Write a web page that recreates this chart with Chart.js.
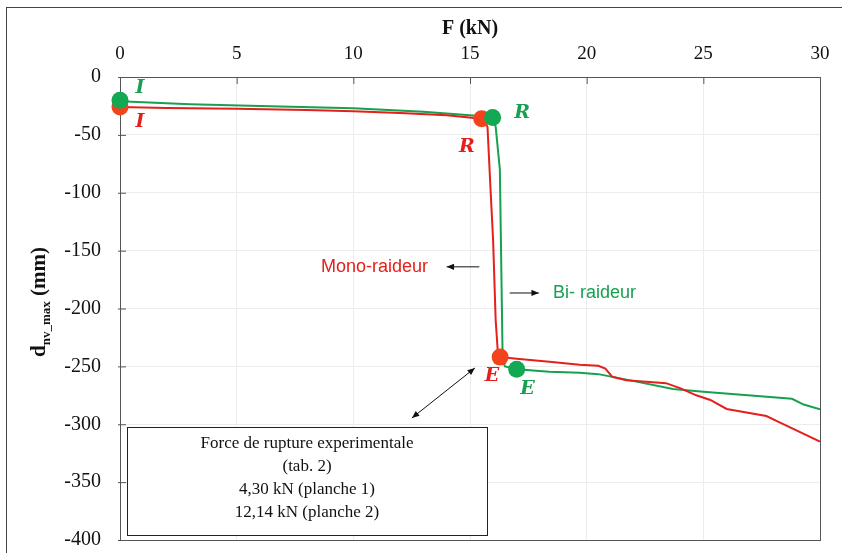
<!DOCTYPE html>
<html>
<head>
<meta charset="utf-8">
<script src="https://cdn.jsdelivr.net/npm/chart.js@4"></script>
<style>
  html, body { margin: 0; padding: 0; background: #fff; }
  #wrap { width: 842px; height: 553px; }
</style>
</head>
<body>
<div id="wrap"><canvas id="myChart" width="842" height="553"></canvas></div>
<script>
// Mono-raideur (rouge)
const redF = [0, 2, 5, 8, 10, 12, 14, 15.5, 15.75, 15.86, 15.99, 16.1, 16.2, 16.29, 17, 18.4, 19.7, 20.5, 20.8, 21.1, 21.7, 23.4, 24.0, 24.7, 25.3, 26.0, 27.7, 28.2, 30];
const redD = [-26, -26.8, -27.5, -28.5, -29.5, -31, -33, -36, -43, -89, -141, -210, -240, -242, -243.5, -246, -248.5, -249.5, -252, -259, -262, -264.5, -268.8, -275, -279, -286.8, -292.9, -297.8, -315];

// Bi-raideur (vert)
const greenF = [0, 3, 6, 10, 13, 15.97, 16.1, 16.28, 16.4, 16.5, 17.0, 18.4, 19.7, 20.5, 21.6, 23.7, 25.0, 28.8, 29.3, 30];
const greenD = [-21, -23.5, -25, -27, -30, -34.5, -43, -80, -245, -250, -252.5, -254.6, -255.5, -256.7, -261, -269.6, -272, -278, -283, -287];

// points I, R, E
const pointNames = ['I', 'R', 'E'];
const redPtF = [0, 15.5, 16.29];
const redPtD = [-26, -36, -242];
const greenPtF = [0, 15.97, 17.0];
const greenPtD = [-20, -35, -252.5];

const xTicks = [0, 5, 10, 15, 20, 25, 30];
const yTicks = [0, -50, -100, -150, -200, -250, -300, -350, -400];

const boxLines = ['Force de rupture experimentale', '(tab. 2)', '4,30 kN (planche 1)', '12,14 kN (planche 2)'];

const RED = '#e3201b';
const GREEN = '#17a050';
const RED_DOT = '#f2431c';
const GREEN_DOT = '#13a853';

const pts = (xs, ys) => xs.map((x, i) => ({ x: x, y: ys[i] }));

function arrow(ctx, x1, y1, x2, y2, both) {
    const head = (ax, ay, bx, by) => {
        const a = Math.atan2(by - ay, bx - ax);
        ctx.beginPath();
        ctx.moveTo(bx, by);
        ctx.lineTo(bx - 8 * Math.cos(a - 0.4), by - 8 * Math.sin(a - 0.4));
        ctx.lineTo(bx - 8 * Math.cos(a + 0.4), by - 8 * Math.sin(a + 0.4));
        ctx.closePath();
        ctx.fill();
    };
    ctx.beginPath();
    ctx.moveTo(x1, y1);
    ctx.lineTo(x2, y2);
    ctx.stroke();
    head(x1, y1, x2, y2);
    if (both) head(x2, y2, x1, y1);
}

const extras = {
    id: 'extras',
    beforeDraw(chart) {
        const ctx = chart.ctx;
        ctx.save();
        ctx.fillStyle = '#fff';
        ctx.fillRect(0, 0, chart.width, chart.height);
        ctx.restore();
    },
    beforeDatasetsDraw(chart) {
        // plot frame + inward ticks, under the markers
        const ctx = chart.ctx;
        const xs = chart.scales.x, ys = chart.scales.y;
        const a = chart.chartArea;
        ctx.save();
        ctx.strokeStyle = '#555';
        ctx.lineWidth = 1;
        ctx.strokeRect(a.left + 0.5, a.top + 0.5, a.right - a.left, a.bottom - a.top);
        ctx.beginPath();
        xTicks.forEach(t => { const x = xs.getPixelForValue(t) + 0.5; ctx.moveTo(x, a.top); ctx.lineTo(x, a.top + 7); });
        yTicks.forEach(t => { const y = ys.getPixelForValue(t) + 0.5; ctx.moveTo(a.left - 2, y); ctx.lineTo(a.left + 6, y); });
        ctx.stroke();
        ctx.restore();
    },
    afterDatasetsDraw(chart) {
        const ctx = chart.ctx;
        const xs = chart.scales.x, ys = chart.scales.y;
        const X = v => xs.getPixelForValue(v), Y = v => ys.getPixelForValue(v);
        ctx.save();

        // outer frame
        ctx.strokeStyle = '#444';
        ctx.lineWidth = 1;
        ctx.strokeRect(6.5, 7.5, chart.width + 10, chart.height + 10);

        // point letters
        ctx.font = 'italic bold 19px "DejaVu Serif", serif';
        ctx.textAlign = 'center';
        ctx.textBaseline = 'middle';
        const redLab = [[0.86, -38.9], [14.87, -60.5], [15.94, -258.3]];
        const greenLab = [[0.86, -9.5], [17.23, -31], [17.46, -270]];
        pointNames.forEach((n, i) => {
            ctx.fillStyle = RED;
            ctx.fillText(n, X(redLab[i][0]), Y(redLab[i][1]));
            ctx.fillStyle = GREEN;
            ctx.fillText(n, X(greenLab[i][0]), Y(greenLab[i][1]));
        });

        // Mono / Bi labels
        ctx.font = '18px "Liberation Sans", Arial, sans-serif';
        ctx.fillStyle = RED;
        ctx.textAlign = 'right';
        ctx.fillText('Mono-raideur', X(13.2), Y(-164));
        ctx.fillStyle = GREEN;
        ctx.textAlign = 'left';
        ctx.fillText('Bi- raideur', X(18.56), Y(-186.6));

        ctx.strokeStyle = '#111';
        ctx.fillStyle = '#111';
        arrow(ctx, X(15.4), Y(-164), X(14.0), Y(-164), false);
        arrow(ctx, X(16.7), Y(-186.6), X(17.95), Y(-186.6), false);
        arrow(ctx, X(12.51), Y(-294.6), X(15.21), Y(-251.4), true);

        // text box
        const bx1 = X(0.3), bx2 = X(15.73), by1 = Y(-302.4), by2 = Y(-395.7);
        ctx.fillStyle = '#fff';
        ctx.fillRect(bx1, by1, bx2 - bx1, by2 - by1);
        ctx.strokeStyle = '#222';
        ctx.strokeRect(Math.round(bx1) + 0.5, Math.round(by1) + 0.5, Math.round(bx2 - bx1), Math.round(by2 - by1));
        ctx.fillStyle = '#111';
        ctx.textAlign = 'center';
        ctx.font = '17px "Liberation Serif", "Times New Roman", serif';
        boxLines.forEach((t, i) => ctx.fillText(t, (bx1 + bx2) / 2, by1 + 17 + i * 23));

        // y axis title with subscript
        ctx.translate(38, 302);
        ctx.rotate(-Math.PI / 2);
        ctx.fillStyle = '#111';
        ctx.textAlign = 'left';
        ctx.textBaseline = 'alphabetic';
        const big = 'bold 21px "Liberation Serif", serif';
        const small = 'bold 13px "Liberation Serif", serif';
        ctx.font = big; const w1 = ctx.measureText('d').width;
        ctx.font = small; const w2 = ctx.measureText('nv_max').width;
        ctx.font = big; const w3 = ctx.measureText(' (mm)').width;
        let x0 = -(w1 + w2 + w3) / 2;
        ctx.font = big; ctx.fillText('d', x0, 7);
        ctx.font = small; ctx.fillText('nv_max', x0 + w1, 12);
        ctx.font = big; ctx.fillText(' (mm)', x0 + w1 + w2, 7);

        ctx.restore();
    }
};

const data = {
    datasets: [{
        label: 'Mono-raideur',
        data: pts(redF, redD),
        borderColor: RED,
        borderWidth: 2,
        pointRadius: 0,
        showLine: true,
        order: 3
    }, {
        label: 'Bi- raideur',
        data: pts(greenF, greenD),
        borderColor: GREEN,
        borderWidth: 2,
        pointRadius: 0,
        showLine: true,
        order: 4
    }, {
        label: 'points mono',
        data: pts(redPtF, redPtD),
        backgroundColor: RED_DOT,
        borderWidth: 0,
        pointRadius: 8.5,
        showLine: false,
        clip: false,
        order: 2
    }, {
        label: 'points bi',
        data: pts(greenPtF, greenPtD),
        backgroundColor: GREEN_DOT,
        borderWidth: 0,
        pointRadius: 8.5,
        showLine: false,
        clip: false,
        order: 1
    }]
};

const config = {
    type: 'scatter',
    data: data,
    options: {
        responsive: false,
        animation: false,
        layout: { padding: { left: 0, right: 22, top: 0, bottom: 13 } },
        plugins: { legend: { display: false }, tooltip: { enabled: false } },
        scales: {
            x: {
                type: 'linear',
                position: 'top',
                min: 0, max: 30,
                afterBuildTicks: s => { s.ticks = xTicks.map(v => ({ value: v })); },
                afterFit: s => { s.height = 77; s.paddingLeft = 0; s.paddingRight = 0; },
                grid: { color: '#ececec', tickLength: 0 },
                border: { color: '#555' },
                ticks: {
                    padding: 12,
                    color: '#111',
                    font: { family: '"Liberation Serif", serif', size: 19 }
                },
                title: {
                    display: true,
                    text: 'F (kN)',
                    color: '#111',
                    padding: { top: 17, bottom: 0 },
                    font: { family: '"Liberation Serif", serif', size: 20, weight: 'bold' }
                }
            },
            y: {
                type: 'linear',
                min: -400, max: 0,
                afterBuildTicks: s => { s.ticks = yTicks.map(v => ({ value: v })); },
                afterFit: s => { s.width = 120; s.paddingTop = 0; s.paddingBottom = 0; },
                grid: { color: '#ececec', tickLength: 0 },
                border: { color: '#555' },
                ticks: {
                    padding: 19,
                    color: '#111',
                    font: { family: '"Liberation Serif", serif', size: 20 }
                }
            }
        }
    },
    plugins: [extras]
};

const myChart = new Chart(document.getElementById('myChart'), config);
</script>
</body>
</html>
